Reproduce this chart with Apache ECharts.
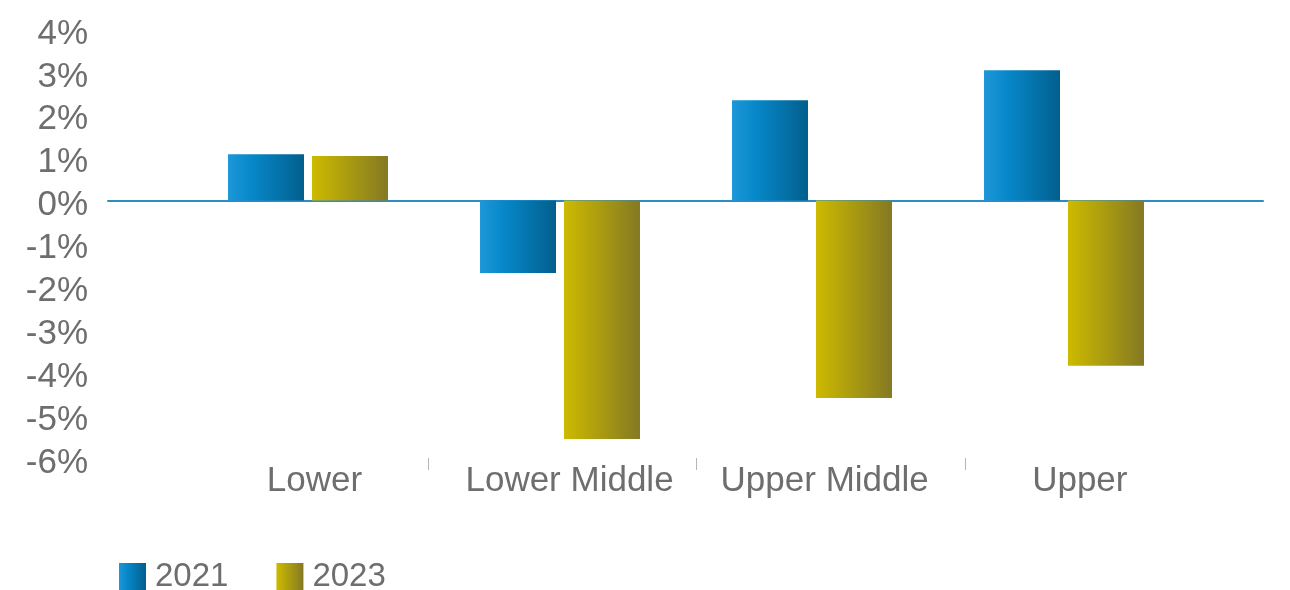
<!DOCTYPE html>
<html>
<head>
<meta charset="utf-8">
<script src="https://cdn.jsdelivr.net/npm/echarts@6/dist/echarts.min.js"></script>
<style>
html,body{margin:0;padding:0;background:#fff;}
#chart{width:1290px;height:590px;}
</style>
</head>
<body>
<div id="chart"></div>
<script>
const categories = ['Lower', 'Lower Middle', 'Upper Middle', 'Upper'];
const seriesNames = ['2021', '2023'];
const values2021 = [1.08, -1.69, 2.34, 3.04];
const values2023 = [1.04, -5.56, -4.60, -3.85];
const yMin = -6, yMax = 4, yStep = 1;
const tickPositions = [1, 2, 3];

const FONT = 'Liberation Sans';
const TXT = '#6e6e6e';

const blueGrad = new echarts.graphic.LinearGradient(0, 0, 1, 0, [
  {offset: 0, color: '#1e97d8'},
  {offset: 0.3, color: '#0788ca'},
  {offset: 1, color: '#025f8d'}
]);
const yellowGrad = new echarts.graphic.LinearGradient(0, 0, 1, 0, [
  {offset: 0, color: '#cdba00'},
  {offset: 1, color: '#847923'}
]);

const gTop = 29, gH = 429;
const hiddenY = (gi) => ({type: 'value', gridIndex: gi, min: yMin, max: yMax, interval: yStep, show: false});

const option = {
  backgroundColor: '#ffffff',
  animation: false,
  textStyle: {fontFamily: FONT},
  grid: [
    {left: 182, width: 1008, top: gTop, height: gH},
    {left: 108, width: 1155, top: gTop, height: gH},
    {left: 159.5, width: 1074, top: gTop, height: gH},
    {left: 186.8, width: 1020.6, top: gTop, height: gH}
  ],
  legend: {
    left: 114, top: 555,
    itemWidth: 27, itemHeight: 27, itemGap: 48,
    icon: 'rect',
    textStyle: {fontFamily: FONT, fontSize: 33, color: TXT, padding: [0, 0, 0, 4]},
    data: seriesNames
  },
  xAxis: [
    {type: 'category', gridIndex: 0, data: categories, show: false},
    {type: 'value', gridIndex: 1, min: 0, max: 1,
      axisLine: {show: true, onZero: true, lineStyle: {color: '#2a8dc6', width: 2}},
      axisTick: {show: false}, axisLabel: {show: false}, splitLine: {show: false}},
    {type: 'value', gridIndex: 2, min: 0, max: 4, position: 'bottom',
      axisLine: {show: false, onZero: false},
      axisTick: {show: true, length: 12, customValues: tickPositions, lineStyle: {color: '#b5b5b5', width: 1}},
      axisLabel: {show: false}, splitLine: {show: false}},
    {type: 'category', gridIndex: 3, data: categories, position: 'bottom',
      axisLine: {show: false, onZero: false}, axisTick: {show: false}, splitLine: {show: false},
      axisLabel: {show: true, interval: 0, margin: 6, fontFamily: FONT, fontSize: 35, color: TXT}}
  ],
  yAxis: [
    hiddenY(0),
    {type: 'value', gridIndex: 1, min: yMin, max: yMax, interval: yStep,
      axisLine: {show: false}, axisTick: {show: false}, splitLine: {show: false},
      axisLabel: {margin: 20, fontFamily: FONT, fontSize: 35, color: TXT,
        formatter: v => '{p|' + v + '%}',
        rich: {p: {fontFamily: FONT, fontSize: 35, color: TXT, padding: [10, 0, 0, 0]}}}},
    hiddenY(2),
    hiddenY(3)
  ],
  series: [
    {name: seriesNames[0], type: 'bar', xAxisIndex: 0, yAxisIndex: 0, data: values2021,
      barWidth: 76, barGap: '10.5%', itemStyle: {color: blueGrad}},
    {name: seriesNames[1], type: 'bar', xAxisIndex: 0, yAxisIndex: 0, data: values2023,
      barWidth: 76, barGap: '10.5%', itemStyle: {color: yellowGrad}}
  ]
};

const chart = echarts.init(document.getElementById('chart'), null, {renderer: 'canvas'});
chart.setOption(option);
</script>
</body>
</html>
